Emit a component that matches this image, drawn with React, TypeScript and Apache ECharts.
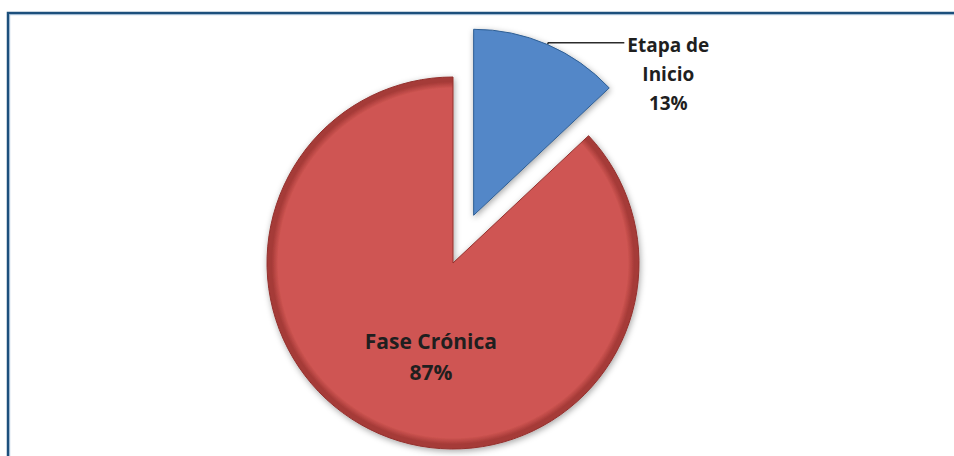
import React, { useEffect, useRef } from "react";
import * as echarts from "echarts";

const categories = ["Etapa de\nInicio", "Fase Crónica"];
const values = [13, 87];
const colors = ["#5287c8", "#cf5552"];
const borderColors = ["#2f5e93", "#93312e"];
const edgeColors = ["#3a6aa3", "#a53a37"];

const CENTER: [number, number] = [453, 263];
const RADIUS = 186;
const OFFSET = 52;

function edgeGradient(base: string, edge: string, x: number, y: number, r: number) {
  return new echarts.graphic.RadialGradient(x, y, r, [
    { offset: 0, color: base },
    { offset: 0.94, color: base },
    { offset: 0.975, color: edge },
    { offset: 1, color: edge },
  ]);
}

export default function App() {
  const ref = useRef<HTMLDivElement>(null);
  useEffect(() => {
    document.body.style.margin = "0";
    if (!ref.current) return;
    const chart = echarts.init(ref.current, undefined, { renderer: "svg" });
    const total = values.reduce((a, b) => a + b, 0);
    const endAngle = ((90 - (360 * values[0]) / total) * Math.PI) / 180;
    const w0 = RADIUS * Math.cos(endAngle);

    const data = values.map((v, i) => {
      const fill =
        i === 0
          ? edgeGradient(colors[0], edgeColors[0], 0, 1, RADIUS / w0)
          : edgeGradient(colors[1], edgeColors[1], 0.5, 0.5, 0.5);
      return {
        name: categories[i],
        value: v,
        selected: i === 0,
        itemStyle: {
          color: fill,
          borderColor: borderColors[i],
          borderWidth: 1,
          shadowBlur: 6,
          shadowColor: "rgba(0,0,0,0.35)",
          shadowOffsetX: 1,
          shadowOffsetY: 2,
        },
        label:
          i === 0
            ? {
                position: "outside",
                alignTo: "none",
                distanceToLabelLine: 0,
                padding: [62, 0, 0, 0],
                formatter: (p: any) =>
                  `${p.name}\n${Math.round(p.percent)}%`
                    .split("\n")
                    .map((s: string) => `{a|${s}}`)
                    .join("\n"),
                rich: {
                  a: {
                    width: 88,
                    align: "center",
                    lineHeight: 29,
                    fontSize: 19,
                    fontFamily: "Open Sans",
                    fontWeight: "bold",
                    color: "#1f1f1f",
                  },
                },
              }
            : { position: "inside", lineHeight: 31, fontSize: 21 },
        labelLine:
          i === 0
            ? { show: true, length: 2, length2: 76, lineStyle: { color: "#2b2b2b", width: 1.5 } }
            : { show: false },
      };
    });

    chart.setOption({
      animation: false,
      backgroundColor: "#ffffff",
      graphic: [
        {
          type: "rect",
          silent: true,
          shape: { x: 8, y: 13, width: 1200, height: 800 },
          style: { fill: "none", stroke: "#1c4f7c", lineWidth: 2.5 },
        },
        {
          type: "rect",
          silent: true,
          shape: { x: 9.7, y: 14.7, width: 1200, height: 800 },
          style: { fill: "none", stroke: "#8aaccb", lineWidth: 0.8 },
        },
      ],
      series: [
        {
          type: "pie",
          center: CENTER,
          radius: RADIUS,
          startAngle: 90,
          clockwise: true,
          selectedMode: "single",
          selectedOffset: OFFSET,
          avoidLabelOverlap: false,
          emphasis: { disabled: true },
          label: {
            show: true,
            color: "#1f1f1f",
            fontFamily: "Open Sans",
            fontWeight: "bold",
            fontSize: 18,
            formatter: (p: any) => `${p.name}\n${Math.round(p.percent)}%`,
          },
          labelLayout: (p: any) => (p.dataIndex === 1 ? { dx: 16, dy: 5 } : {}),
          data,
        },
      ],
    });
    return () => chart.dispose();
  }, []);
  return <div ref={ref} style={{ width: 954, height: 456 }} />;
}
